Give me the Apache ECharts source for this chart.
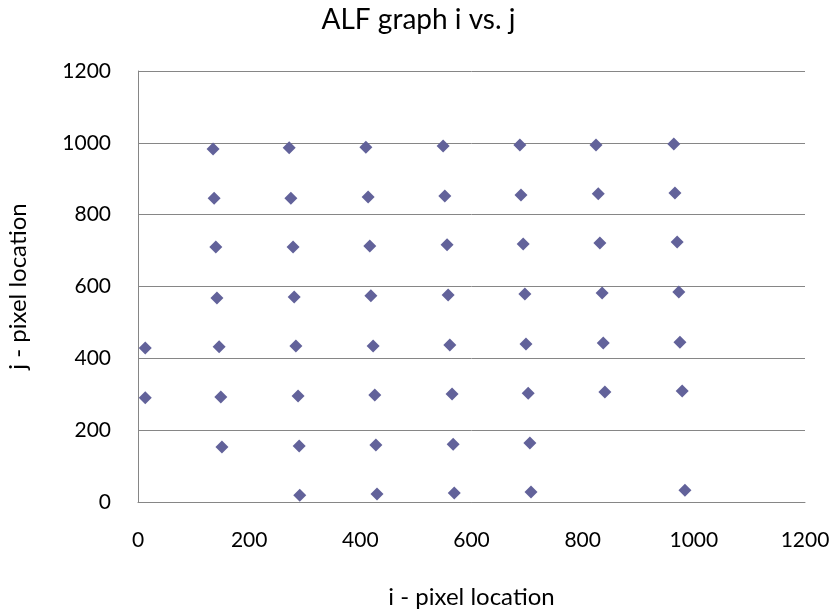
<!DOCTYPE html>
<html><head><meta charset="utf-8">
<script src="https://cdn.jsdelivr.net/npm/echarts@6/dist/echarts.min.js"></script>
<style>html,body{margin:0;padding:0;background:#fff}#c{width:837px;height:613px}</style>
</head><body><div id="c"></div>
<script>
var iValues = [135,272,410,549,687,824,964,
  137,275,414,552,689,828,966,
  140,279,417,556,693,831,970,
  142,281,419,558,696,835,973,
  13,146,284,423,561,698,837,975,
  13,149,288,426,565,702,840,979,
  151,290,428,567,705,
  291,430,569,707,984];
var jValues = [983,986,988,991,994,994,997,
  846,846,849,852,855,858,860,
  710,710,713,716,718,721,724,
  568,571,574,576,579,582,585,
  429,432,434,434,437,440,443,445,
  290,292,295,298,301,303,306,309,
  153,156,159,161,164,
  19,22,25,28,33];
var axisTicks = [0,200,400,600,800,1000,1200];
var data = iValues.map(function(v,k){return [v,jValues[k]];});
var font = 'Lato, "Open Sans", sans-serif';
var chart = echarts.init(document.getElementById('c'));
chart.setOption({
  animation:false,
  title:{text:'ALF graph i vs. j',left:'center',top:1,textStyle:{fontFamily:font,fontSize:28,fontWeight:'normal',color:'#000'}},
  grid:{left:138,right:32,top:71,bottom:111,containLabel:false,outerBoundsMode:'none'},
  xAxis:{type:'value',min:axisTicks[0],max:axisTicks[axisTicks.length-1],interval:200,
    name:'i - pixel location',nameLocation:'middle',nameGap:83,
    nameTextStyle:{fontFamily:font,fontSize:24,color:'#000'},
    axisLine:{show:true,onZero:false,lineStyle:{color:'#868686'}},axisTick:{show:false},
    axisLabel:{fontFamily:font,fontSize:21,color:'#000',margin:28,formatter:function(v){return String(v);}},
    splitLine:{show:false}},
  yAxis:{type:'value',min:axisTicks[0],max:axisTicks[axisTicks.length-1],interval:200,
    name:'j - pixel location',nameLocation:'middle',nameGap:108,
    nameTextStyle:{fontFamily:font,fontSize:24,color:'#000'},
    axisLine:{show:true,lineStyle:{color:'#868686'}},axisTick:{show:false},
    axisLabel:{fontFamily:font,fontSize:21,color:'#000',margin:27,formatter:function(v){return String(v);}},
    splitLine:{show:true,lineStyle:{color:'#868686',width:1}}},
  series:[{type:'scatter',data:data,symbol:'diamond',symbolSize:13,
    itemStyle:{color:'#62629a',opacity:1}}]
});
</script></body></html>
